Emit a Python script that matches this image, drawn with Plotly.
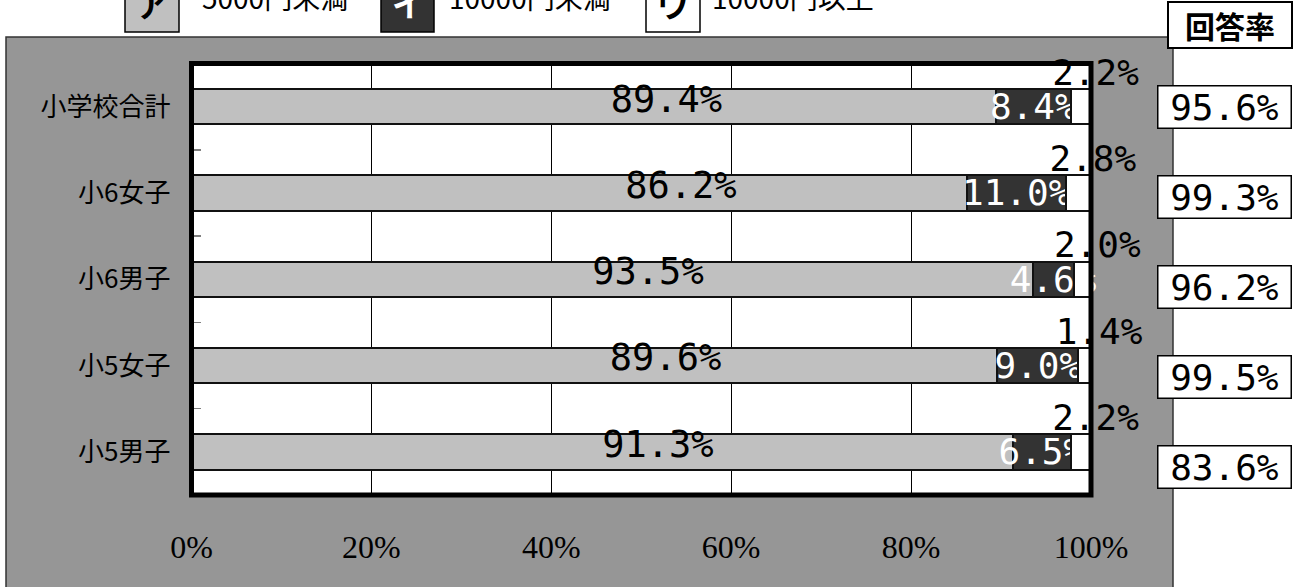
import plotly.graph_objects as go

# ---------------- data ----------------
categories = ["小学校合計", "小6女子", "小6男子", "小5女子", "小5男子"]
under_5000 = [89.4, 86.2, 93.5, 89.6, 91.3]      # ア 5000円未満
under_10000 = [8.4, 11.0, 4.6, 9.0, 6.5]         # イ 10000円未満
over_10000 = [2.2, 2.8, 2.0, 1.4, 2.2]           # ウ 10000円以上
response_rate = [95.6, 99.3, 96.2, 99.5, 83.6]   # 回答率
legend_marks = ["ア", "イ", "ウ"]
legend_names = ["5000円未満", "10000円未満", "10000円以上"]
x_ticks = [0, 20, 40, 60, 80, 100]
x_tick_labels = ["0%", "20%", "40%", "60%", "80%", "100%"]

# ---------------- layout geometry ----------------
W, H = 1298, 587
L, R, T, B = 191.5, 1091.0, 63.5, 495.0
X_EXT = 104  # axis runs a bit past 100% so the labels beyond it stay drawn
px = lambda v: v / W
py = lambda v: 1 - v / H

MONO = "DejaVu Sans Mono"
JP = "Noto Sans CJK JP"
LIGHT, DARK, PANEL = "#c0c0c0", "#333333", "#969696"

ypos = list(range(len(categories)))
unit_px = (B - T) / len(categories)

fig = go.Figure()

fig.add_trace(go.Bar(
    y=ypos, x=under_5000, orientation="h", width=0.41,
    marker=dict(color=LIGHT, line=dict(color="#111111", width=2)),
    hoverinfo="skip", showlegend=False))
fig.add_trace(go.Bar(
    y=ypos, x=under_10000, orientation="h", width=0.41,
    marker=dict(color=DARK, line=dict(color="#111111", width=2)),
    text=[f"{v:.1f}%" for v in under_10000], textposition="inside",
    insidetextanchor="middle", textangle=0, constraintext="none",
    textfont=dict(family=MONO, size=36, color="white"),
    hoverinfo="skip", showlegend=False))
fig.add_trace(go.Bar(
    y=ypos, x=over_10000, orientation="h", width=0.41,
    marker=dict(color="white", line=dict(color="#111111", width=2)),
    hoverinfo="skip", showlegend=False))

# ア labels (placed as in the reference, mirrored about the bar middle)
fig.add_trace(go.Scatter(
    x=[97.5 - a / 2 for a in under_5000],
    y=[i - 4.4 / unit_px for i in ypos],
    mode="text", text=[f"{v:.1f}%" for v in under_5000],
    textposition="middle center",
    textfont=dict(family=MONO, size=37, color="black"),
    cliponaxis=False, hoverinfo="skip", showlegend=False))
# ウ labels
fig.add_trace(go.Scatter(
    x=[a + b + c / 2 + 1.6 for a, b, c in zip(under_5000, under_10000, over_10000)],
    y=[i - 31 / unit_px for i in ypos],
    mode="text", text=[f"{v:.1f}%" for v in over_10000],
    textposition="middle center",
    textfont=dict(family=MONO, size=36, color="black"),
    cliponaxis=False, hoverinfo="skip", showlegend=False))

shapes = [
    # gray panel
    dict(type="rect", xref="paper", yref="paper", x0=px(6), x1=px(1173),
         y0=-0.1, y1=py(37), fillcolor=PANEL,
         line=dict(color="#333333", width=1.5), layer="below"),
    # white plot area
    dict(type="rect", xref="paper", yref="paper", x0=px(L), x1=px(R),
         y0=py(B), y1=py(T), fillcolor="white", line=dict(width=0), layer="below"),
    # thick border
    dict(type="rect", xref="paper", yref="paper", x0=px(L), x1=px(R),
         y0=py(B), y1=py(T), line=dict(color="black", width=5), layer="above"),
]

annotations = []
# legend at top
box_x = [(125, 179), (381, 434), (646, 700)]
box_fill = [LIGHT, DARK, "white"]
mark_col = ["black", "white", "black"]
text_x = [200, 447, 710]
for k in range(3):
    x0, x1 = box_x[k]
    shapes.append(dict(type="rect", xref="paper", yref="paper", x0=px(x0), x1=px(x1),
                       y0=py(32), y1=py(-20), fillcolor=box_fill[k],
                       line=dict(color="black", width=1.5), layer="above"))
    annotations.append(dict(xref="paper", yref="paper", x=px((x0 + x1) / 2), y=py(3),
                            text=f"<b>{legend_marks[k]}</b>", showarrow=False,
                            xanchor="center", yanchor="middle",
                            font=dict(family=JP, size=32, color=mark_col[k])))
    annotations.append(dict(xref="paper", yref="paper", x=px(text_x[k]), y=py(-3),
                            text=legend_names[k], showarrow=False,
                            xanchor="left", yanchor="middle",
                            font=dict(family=JP, size=28, color="black")))

# 回答率 header
annotations.append(dict(xref="paper", yref="paper", x=px(1167), y=py(25.5),
                        text="<b>回答率</b>", showarrow=False, xanchor="left",
                        yanchor="middle", width=122, align="center",
                        font=dict(family=JP, size=30, color="black"),
                        bgcolor="white", bordercolor="black", borderwidth=2, borderpad=0))
# response rate boxes
for i, v in enumerate(response_rate):
    annotations.append(dict(xref="paper", yref="paper", x=px(1157), y=py(107 + 90 * i),
                            text=f"{v:.1f}%", showarrow=False, xanchor="left",
                            yanchor="middle", width=132, align="center",
                            font=dict(family=MONO, size=36, color="black"),
                            bgcolor="white", bordercolor="black", borderwidth=1.5,
                            borderpad=0))

fig.update_layout(
    width=W, height=H,
    margin=dict(l=0, r=0, t=0, b=0, pad=0, autoexpand=False),
    paper_bgcolor="white", plot_bgcolor="rgba(0,0,0,0)",
    barmode="stack",
    shapes=shapes, annotations=annotations,
    xaxis=dict(domain=[px(L), px(L + (R - L) * X_EXT / 100)], range=[0, X_EXT],
               tickvals=x_ticks, automargin=False,
               ticktext=x_tick_labels, showgrid=True, gridcolor="black", gridwidth=1,
               zeroline=False, showline=False, ticks="",
               tickfont=dict(family="Liberation Serif", size=32, color="black"),
               ticklabelstandoff=30, fixedrange=True),
    yaxis=dict(domain=[py(B), py(T)], range=[4.5, -0.5], tickvals=ypos,
               ticktext=categories, showgrid=False, zeroline=False, showline=False,
               automargin=False,
               ticks="", tickfont=dict(family=JP, size=26, color="black"),
               ticklabelstandoff=20,
               minor=dict(ticks="inside", tick0=0.5, dtick=1, ticklen=9,
                          tickcolor="#808080", tickwidth=1.5, showgrid=False),
               fixedrange=True),
    showlegend=False,
)

fig.write_html("out.html",
               config={"displayModeBar": False, "staticPlot": True},
               post_script="document.body.style.margin='0';"
                           "document.body.style.overflow='hidden';")
